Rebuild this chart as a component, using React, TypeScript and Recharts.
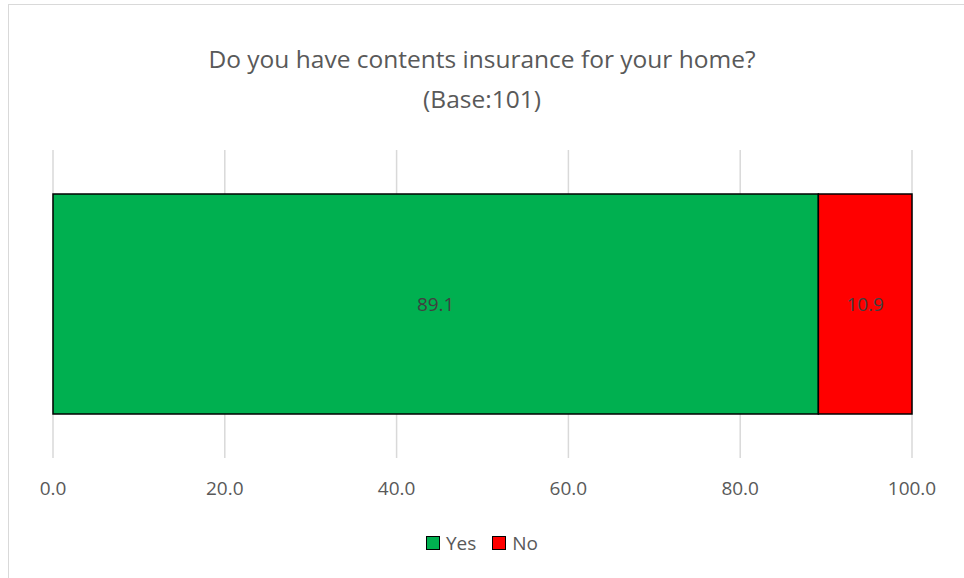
import React from 'react';
import {
  BarChart, Bar, XAxis, YAxis, CartesianGrid, LabelList,
} from 'recharts';

const categories = ['Contents insurance'];
const yesValues = [89.1];
const noValues = [10.9];
const xTicks = [0, 20, 40, 60, 80, 100];

const seriesList = [
  { key: 'yes', label: 'Yes', color: '#00B050' },
  { key: 'no', label: 'No', color: '#FF0000' },
];

const data = categories.map((name, i) => ({
  name,
  yes: yesValues[i],
  no: noValues[i],
}));

const FONT = '"Open Sans", "Noto Sans", sans-serif';
const TEXT = '#595959';

interface TickProps {
  x?: number;
  y?: number;
  payload?: { value: number };
}

const XTick: React.FC<TickProps> = ({ x, y, payload }) => (
  <text
    x={x}
    y={(y ?? 0) + 29}
    textAnchor="middle"
    fill={TEXT}
    fontSize={19}
    fontFamily={FONT}
  >
    {payload ? payload.value.toFixed(1) : ''}
  </text>
);

const ChartLegend: React.FC = () => (
  <div
    style={{
      position: 'absolute', left: 0, top: 530, width: 964,
      display: 'flex', justifyContent: 'center', gap: 16,
      fontFamily: FONT, fontSize: 19, color: TEXT,
    }}
  >
    {seriesList.map((s) => (
      <div key={s.key} style={{ display: 'flex', alignItems: 'center', gap: 6 }}>
        <div style={{
          width: 12, height: 12, background: s.color,
          border: '1.5px solid #000',
        }} />
        <span>{s.label}</span>
      </div>
    ))}
  </div>
);

export default function App() {
  return (
    <div style={{ position: 'absolute', left: 0, top: 0, width: 964, height: 578, background: '#fff' }}>
      <div style={{
        position: 'absolute', left: 8, top: 4, width: 960, height: 580,
        borderLeft: '1.5px solid #d9d9d9', borderTop: '1.5px solid #d9d9d9',
      }} />
      <div style={{
        position: 'absolute', left: 0, top: 39, width: 964, textAlign: 'center',
        fontFamily: FONT, fontSize: 24.5, lineHeight: '40px', color: TEXT,
      }}>
        <div>Do you have contents insurance for your home?</div>
        <div>(Base:101)</div>
      </div>
      <div style={{ position: 'absolute', left: 0, top: 0 }}>
        <BarChart
          width={964}
          height={578}
          data={data}
          layout="vertical"
          margin={{ top: 150, right: 52, bottom: 90, left: 53 }}
        >
          <CartesianGrid horizontal={false} stroke="#d9d9d9" strokeWidth={1.5} />
          <XAxis
            type="number"
            domain={[0, 100]}
            ticks={xTicks}
            height={30}
            axisLine={false}
            tickLine={false}
            tick={<XTick />}
            interval={0}
          />
          <YAxis type="category" dataKey="name" hide />
          {seriesList.map((s) => (
            <Bar
              key={s.key}
              dataKey={s.key}
              stackId="a"
              barSize={220}
              fill={s.color}
              stroke="#000"
              strokeWidth={1.5}
              isAnimationActive={false}
            >
              <LabelList
                dataKey={s.key}
                position="center"
                fill="#404040"
                fontSize={19}
                fontFamily={FONT}
                formatter={(v: number) => v.toFixed(1)}
              />
            </Bar>
          ))}
        </BarChart>
      </div>
      <ChartLegend />
    </div>
  );
}
